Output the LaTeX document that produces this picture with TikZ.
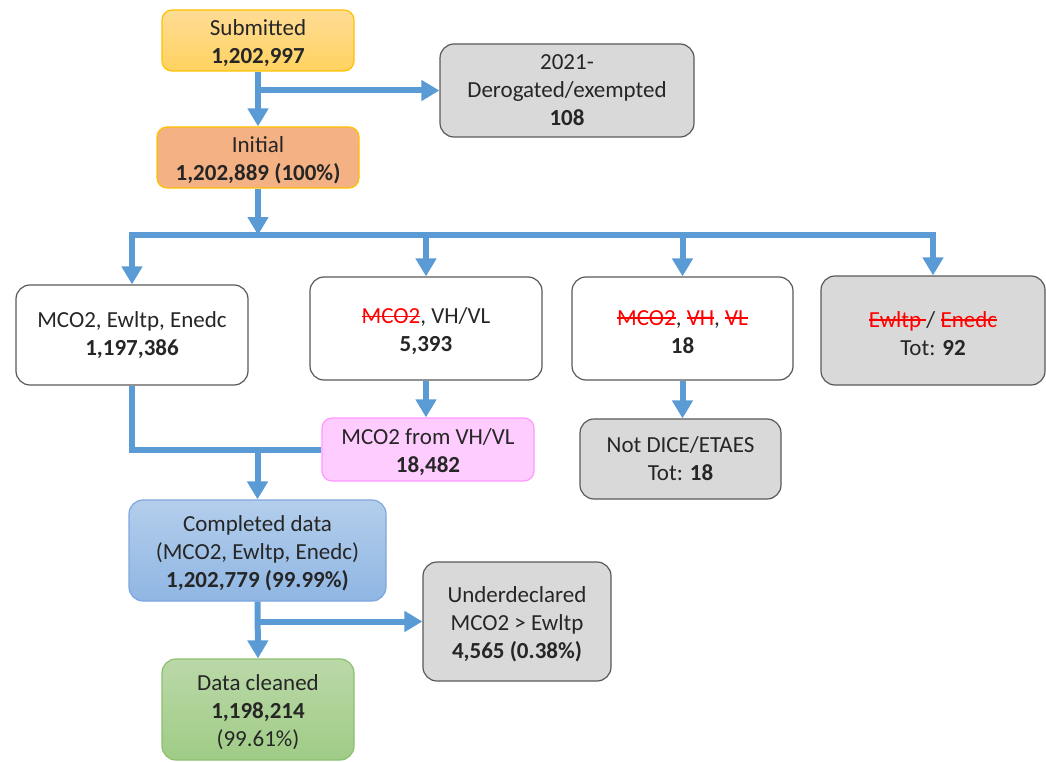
\documentclass[tikz,border=0pt]{standalone}
\usepackage{fontspec}
\setmainfont{Carlito}
\usetikzlibrary{arrows.meta,shapes.misc}
\definecolor{arrblue}{HTML}{5B9BD5}
\definecolor{txt}{HTML}{262626}
\definecolor{graybox}{HTML}{D9D9D9}
\definecolor{grayline}{HTML}{595959}
\definecolor{strkred}{HTML}{FF0000}
\newcommand{\strk}[1]{{\color{strkred}\setbox0\hbox{#1}\rlap{\rule[0.29em]{\wd0}{1.4pt}}\box0}}
\newcommand{\tp}{\rule{0pt}{22pt}}
\tikzset{
  box/.style={rectangle, rounded corners=14pt, inner sep=0pt, align=center,
    text=txt, font=\fontsize{23}{28}\selectfont, line width=1.2pt},
  whitebox/.style={box, draw=grayline, fill=white},
  greybox/.style={box, draw=grayline, fill=graybox},
  conn/.style={draw=arrblue, line width=6pt, line join=miter},
  arr/.style={conn, -{Triangle[width=20pt,length=18pt]}},
}
\begin{document}
\begin{tikzpicture}[x=1pt,y=-1pt]
\useasboundingbox (0,0) rectangle (1046,762);

\node[box, rounded corners=10pt, draw={rgb,255:red,255;green,192;blue,0}, top color={rgb,255:red,255;green,220;blue,150}, bottom color={rgb,255:red,255;green,210;blue,95},
  minimum width=192pt, minimum height=61pt] (sub) at (258,40.5) {\tp Submitted\\\textbf{1,202,997}};
\node[greybox, minimum width=254pt, minimum height=93pt] (der) at (567,90.5) {2021-\\Derogated/exempted\\\textbf{108}};
\node[box, rounded corners=10pt, draw={rgb,255:red,255;green,192;blue,0}, fill={rgb,255:red,244;green,177;blue,131},
  minimum width=202pt, minimum height=61pt] (ini) at (258,157.5) {\tp Initial\\\textbf{1,202,889 (100\%)}};

\node[whitebox, minimum width=232pt, minimum height=100pt] (b1) at (132,335) {MCO2, Ewltp, Enedc\\\textbf{1,197,386}};
\node[whitebox, minimum width=232pt, minimum height=103pt] (b2) at (426,328.5) {\tp\strk{MCO2}, VH/VL\\\textbf{5,393}};
\node[whitebox, minimum width=221pt, minimum height=103pt] (b3) at (682.5,328.5) {\tp\strk{MCO2}, \strk{VH}, \strk{VL}\\\textbf{18}};
\node[greybox, minimum width=224pt, minimum height=109pt] (b4) at (933,330.5) {\tp\strk{Ewltp\ }/ \strk{Enedc}\\Tot: \textbf{92}};

\node[box, rounded corners=10pt, draw={rgb,255:red,255;green,153;blue,255}, fill={rgb,255:red,255;green,204;blue,255},
  minimum width=212pt, minimum height=63pt] (pink) at (428,449.5) {\tp MCO2 from VH/VL\\\textbf{18,482}};
\node[greybox, minimum width=201pt, minimum height=80pt] (nd) at (680.5,459) {Not DICE/ETAES\\Tot: \textbf{18}};

\node[box, draw={rgb,255:red,126;green,166;blue,224}, top color={rgb,255:red,180;green,206;blue,236}, bottom color={rgb,255:red,143;green,182;blue,227},
  minimum width=257pt, minimum height=101pt] (comp) at (257.5,550.5) {\tp Completed data\\(MCO2, Ewltp, Enedc)\\\textbf{1,202,779 (99.99\%)}};
\node[greybox, minimum width=188pt, minimum height=119pt] (und) at (517,621.5) {\tp Underdeclared\\MCO2 > Ewltp\\\textbf{4,565 (0.38\%)}};
\node[box, draw={rgb,255:red,140;green,192;blue,110}, top color={rgb,255:red,186;green,216;blue,168}, bottom color={rgb,255:red,160;green,204;blue,134},
  minimum width=192pt, minimum height=101pt] (clean) at (258,709.5) {\tp Data cleaned\\\textbf{1,198,214}\\(99.61\%)};

\coordinate (bus) at (258,235);

% connectors
\draw[arr] (sub.south) -- (ini.north);
\draw[arr] (sub.south |- der.west) -- (der.west);
\draw[arr] (ini.south) -- (ini.south |- bus);
\draw[arr] (ini.south |- bus) -- (b1.north |- bus) -- (b1.north);
\draw[arr] (ini.south |- bus) -- (b4.north |- bus) -- (b4.north);
\draw[arr] (b2.north |- bus) -- (b2.north);
\draw[arr] (b3.north |- bus) -- (b3.north);
\draw[arr] (b2.south) -- (b2.south |- pink.north);
\draw[arr] (b3.south) -- (b3.south |- nd.north);
\draw[conn] (b1.south) -- (b1.south |- pink.west) -- (pink.west);
\draw[arr] (comp.north |- pink.west) -- (comp.north);
\draw[arr] (comp.south) -- (clean.north);
\draw[arr] (comp.south |- und.west) -- (und.west);
\end{tikzpicture}
\end{document}
